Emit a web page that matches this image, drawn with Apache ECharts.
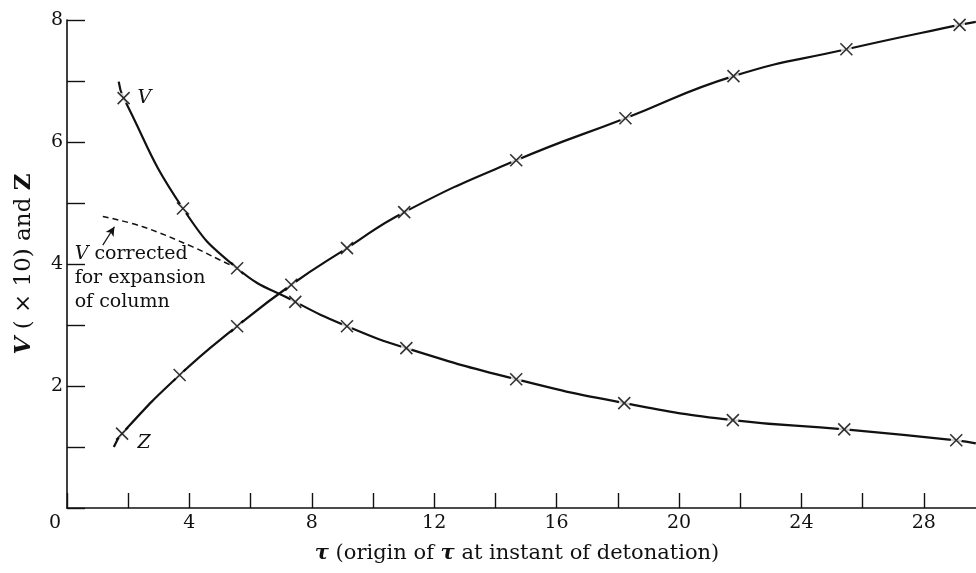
<!DOCTYPE html>
<html>
<head>
<meta charset="utf-8">
<script src="https://cdn.jsdelivr.net/npm/echarts@6/dist/echarts.min.js"></script>
<style>
  html, body { margin: 0; padding: 0; background: #fff; overflow: hidden; }
  /* a little wider than the window so the axis runs off the right edge */
  #chart { width: 988px; height: 573px; }
</style>
</head>
<body>
<div id="chart"></div>
<script>
// measured points (tau, value)
var vTau = [1.85, 3.79, 5.56, 7.46, 9.15, 11.09, 14.68, 18.21, 21.76, 25.40, 29.06];
var vVals = [6.72, 4.91, 3.93, 3.38, 2.98, 2.62, 2.11, 1.72, 1.44, 1.29, 1.11];
var zTau = [1.80, 3.68, 5.56, 7.33, 9.15, 11.02, 14.68, 18.25, 21.78, 25.47, 29.17];
var zVals = [1.22, 2.18, 2.98, 3.66, 4.26, 4.85, 5.70, 6.39, 7.08, 7.52, 7.92];

// ends of the drawn curves
var vCurveStart = [1.69, 6.99];
var vCurveEnd = [29.7, 1.06];
var zCurveStart = [1.53, 1.00];
var zCurveEnd = [29.7, 7.97];

// dashed "V corrected" curve
var corrTau = [1.17, 2.48, 4.11, 4.98, 5.56];
var corrVals = [4.78, 4.61, 4.28, 4.07, 3.93];

var xLabels = [0, 4, 8, 12, 16, 20, 24, 28];
var yLabels = [2, 4, 6, 8];

var serif = '"DejaVu Serif", "Liberation Serif", serif';

function pairs(xs, ys) {
  var out = [];
  for (var i = 0; i < xs.length; i++) out.push([xs[i], ys[i]]);
  return out;
}

var vPts = pairs(vTau, vVals);
var zPts = pairs(zTau, zVals);
var vLine = [vCurveStart].concat(vPts, [vCurveEnd]);
var zLine = [zCurveStart].concat(zPts, [zCurveEnd]);

var crossSymbol = 'path://M0,0L10,10M10,0L0,10';

function curve(data) {
  return {
    type: 'line', data: data, smooth: 0.5,
    showSymbol: false, z: 2, silent: true,
    lineStyle: { color: '#111', width: 2.2 }
  };
}
function gaps(data) {
  return {
    type: 'scatter', data: data, symbol: 'circle', symbolSize: 11, z: 3, silent: true,
    itemStyle: { color: '#fff' }
  };
}
function crosses(data) {
  return {
    type: 'scatter', data: data, symbol: crossSymbol, symbolSize: 12, z: 4, silent: true,
    itemStyle: { color: 'none', borderColor: '#000', borderWidth: 1.6 }
  };
}

var myChart = echarts.init(document.getElementById('chart'));
myChart.setOption({
  animation: false,
  backgroundColor: '#fff',
  grid: { left: 67, right: 0, top: 20, bottom: 65 },
  xAxis: {
    type: 'value', min: 0, max: 30, interval: 2,
    name: '{t|τ} (origin of {t|τ} at instant of detonation)',
    nameLocation: 'middle', nameGap: 35,
    nameTextStyle: {
      fontFamily: serif, fontSize: 21, color: '#111', padding: [0, 18, 0, 0],
      rich: { t: { fontFamily: serif, fontSize: 21, fontStyle: 'italic', fontWeight: 'bold', color: '#111' } }
    },
    axisLine: { onZero: false, lineStyle: { color: '#111', width: 1.6 } },
    axisTick: { inside: true, length: 15, lineStyle: { color: '#111', width: 1.4 } },
    splitLine: { show: false },
    axisLabel: {
      margin: 6, fontFamily: serif, fontSize: 19, color: '#111',
      formatter: function (v) {
        if (v === 0) return '{o|0}';
        return xLabels.indexOf(v) >= 0 ? String(v) : '';
      },
      rich: { o: { fontFamily: serif, fontSize: 19, color: '#111', padding: [0, 24, 0, 0] } }
    }
  },
  yAxis: {
    type: 'value', min: 0, max: 8, interval: 1,
    name: '{v|V} ( × 10) and {z|Z}',
    nameLocation: 'middle', nameGap: 31, nameRotate: 90,
    nameTextStyle: {
      fontFamily: serif, fontSize: 23, color: '#111',
      rich: {
        v: { fontFamily: serif, fontSize: 23, fontStyle: 'italic', fontWeight: 'bold', color: '#111' },
        z: { fontFamily: serif, fontSize: 23, fontWeight: 'bold', color: '#111' }
      }
    },
    axisLine: { lineStyle: { color: '#111', width: 1.6 } },
    axisTick: { inside: true, length: 18, lineStyle: { color: '#111', width: 1.4 } },
    splitLine: { show: false },
    axisLabel: {
      margin: 4, fontFamily: serif, fontSize: 19, color: '#111',
      formatter: function (v) { return yLabels.indexOf(v) >= 0 ? String(v) : ''; }
    }
  },
  series: [
    curve(vLine),
    curve(zLine),
    {
      type: 'line', data: pairs(corrTau, corrVals), smooth: 0.4, showSymbol: false, z: 2, silent: true,
      lineStyle: { color: '#111', width: 1.5, type: [6, 4] },
      markLine: {
        silent: true, symbol: ['none', 'arrow'], symbolSize: [7, 9],
        lineStyle: { color: '#111', width: 1.2, type: 'solid' },
        label: { show: false },
        data: [[{ coord: [1.17, 4.31] }, { coord: [1.55, 4.61] }]]
      }
    },
    gaps(vPts),
    gaps(zPts),
    crosses(vPts),
    crosses(zPts)
  ]
});

// text notes placed in data coordinates
function place(coord) { return myChart.convertToPixel({ gridIndex: 0 }, coord); }
var pV = place([2.3, 6.72]);
var pZ = place([2.3, 1.07]);
var pNote = place([0.25, 4.36]);
myChart.setOption({
  graphic: [
    { type: 'text', x: pV[0], y: pV[1], style: { text: 'V', font: 'italic 19px ' + serif, fill: '#111', verticalAlign: 'middle' } },
    { type: 'text', x: pZ[0], y: pZ[1], style: { text: 'Z', font: 'italic 19px ' + serif, fill: '#111', verticalAlign: 'middle' } },
    {
      type: 'text', x: pNote[0], y: pNote[1],
      style: {
        text: '{i|V} corrected\nfor expansion\nof column',
        font: '19px ' + serif, fill: '#111', lineHeight: 24,
        rich: { i: { font: 'italic 19px ' + serif, fill: '#111' } }
      }
    }
  ]
});
</script>
</body>
</html>
